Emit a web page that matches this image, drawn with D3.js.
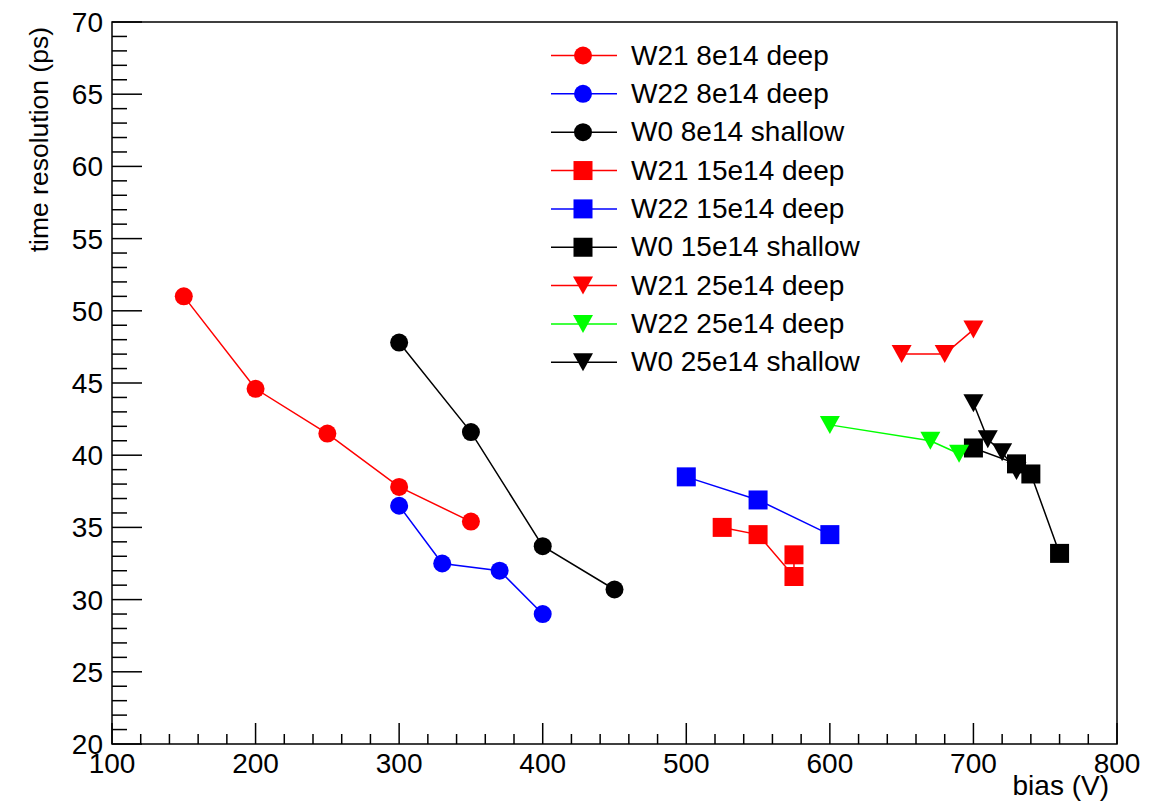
<!DOCTYPE html>
<html>
<head>
<meta charset="utf-8">
<script src="https://cdn.jsdelivr.net/npm/d3@7"></script>
<style>
  body { margin: 0; background: #fff; }
  text { font-family: "Liberation Sans", Arial, sans-serif; fill: #000; }
</style>
</head>
<body>
<svg id="myGraph" width="1162" height="809"></svg>
<script>
// グラフのデータ
var seriesNames = ['W21 8e14 deep', 'W22 8e14 deep', 'W0 8e14 shallow',
                   'W21 15e14 deep', 'W22 15e14 deep', 'W0 15e14 shallow',
                   'W21 25e14 deep', 'W22 25e14 deep', 'W0 25e14 shallow'];

var biasW21_8e14  = [150, 200, 250, 300, 350];
var resW21_8e14   = [51.0, 44.6, 41.5, 37.8, 35.4];
var biasW22_8e14  = [300, 330, 370, 400];
var resW22_8e14   = [36.5, 32.5, 32.0, 29.0];
var biasW0_8e14   = [300, 350, 400, 450];
var resW0_8e14    = [47.8, 41.6, 33.7, 30.7];

var biasW21_15e14 = [525, 550, 575, 575];
var resW21_15e14  = [35.0, 34.5, 31.6, 33.1];
var biasW22_15e14 = [500, 550, 600];
var resW22_15e14  = [38.5, 36.9, 34.5];
var biasW0_15e14  = [700, 730, 740, 760];
var resW0_15e14   = [40.5, 39.4, 38.7, 33.2];

var biasW21_25e14 = [650, 680, 700];
var resW21_25e14  = [47.0, 47.0, 48.7];
var biasW22_25e14 = [600, 670, 690];
var resW22_25e14  = [42.1, 41.0, 40.1];
var biasW0_25e14  = [700, 710, 720, 730];
var resW0_25e14   = [43.6, 41.1, 40.2, 38.9];

var xTicks = [100, 200, 300, 400, 500, 600, 700, 800];
var yTicks = [20, 25, 30, 35, 40, 45, 50, 55, 60, 65, 70];

// 色とマーカー
var colors  = ['#ff0000', '#0000ff', '#000000', '#ff0000', '#0000ff', '#000000', '#ff0000', '#00ff00', '#000000'];
var markers = ['circle', 'circle', 'circle', 'square', 'square', 'square', 'tri', 'tri', 'tri'];

var biasList = [biasW21_8e14, biasW22_8e14, biasW0_8e14, biasW21_15e14, biasW22_15e14, biasW0_15e14, biasW21_25e14, biasW22_25e14, biasW0_25e14];
var resList  = [resW21_8e14, resW22_8e14, resW0_8e14, resW21_15e14, resW22_15e14, resW0_15e14, resW21_25e14, resW22_25e14, resW0_25e14];

var series = seriesNames.map(function(name, i) {
    return {
        name: name,
        color: colors[i],
        marker: markers[i],
        points: biasList[i].map(function(b, j) { return [b, resList[i][j]]; })
    };
});

// プロット領域 (window.top と被らないように名前を変える)
var padL = 112, padR = 1117, padT = 22, padB = 744;

var x = d3.scaleLinear().domain([100, 800]).range([padL, padR]);
var y = d3.scaleLinear().domain([20, 70]).range([padB, padT]);

var svg = d3.select('#myGraph');

// 枠
svg.append('path')
  .attr('d', 'M' + padL + ',' + padB + 'V' + padT + 'H' + padR + 'V' + padB + 'Z')
  .attr('fill', 'none')
  .attr('stroke', '#000')
  .attr('stroke-width', 1.5);

// 目盛り (y)
svg.append('g')
  .selectAll('line')
  .data(d3.range(20, 70.01, 1))
  .enter()
  .append('line')
  .attr('x1', padL)
  .attr('x2', function(d) { return padL + (d % 5 === 0 ? 30 : 15); })
  .attr('y1', function(d) { return y(d); })
  .attr('y2', function(d) { return y(d); })
  .attr('stroke', '#000')
  .attr('stroke-width', 1.5);

svg.append('g')
  .selectAll('text')
  .data(yTicks)
  .enter()
  .append('text')
  .attr('x', 103)
  .attr('y', function(d) { return y(d) + 10; })
  .attr('text-anchor', 'end')
  .style('font-size', '28px')
  .text(function(d) { return d; });

// 目盛り (x)
svg.append('g')
  .selectAll('line')
  .data(d3.range(100, 800.01, 20))
  .enter()
  .append('line')
  .attr('x1', function(d) { return x(d); })
  .attr('x2', function(d) { return x(d); })
  .attr('y1', padB)
  .attr('y2', function(d) { return padB - (d % 100 === 0 ? 21 : 10); })
  .attr('stroke', '#000')
  .attr('stroke-width', 1.5);

svg.append('g')
  .selectAll('text')
  .data(xTicks)
  .enter()
  .append('text')
  .attr('x', function(d) { return x(d); })
  .attr('y', 773)
  .attr('text-anchor', 'middle')
  .style('font-size', '28px')
  .text(function(d) { return d; });

// 軸ラベル
svg.append('text')
  .attr('x', 1109)
  .attr('y', 795)
  .attr('text-anchor', 'end')
  .style('font-size', '28px')
  .text('bias (V)');

svg.append('text')
  .attr('transform', 'translate(48,27) rotate(-90)')
  .attr('text-anchor', 'end')
  .style('font-size', '26.5px')
  .text('time resolution (ps)');

// マーカーを描く
function drawMarker(g, type, color) {
    if (type === 'circle') {
        g.append('circle').attr('r', 9).attr('fill', color);
    } else if (type === 'square') {
        g.append('rect').attr('x', -9.5).attr('y', -9.5).attr('width', 19).attr('height', 19).attr('fill', color);
    } else {
        g.append('path').attr('d', 'M-10,-9L10,-9L0,9Z').attr('fill', color);
    }
}

var line = d3.line()
  .x(function(d) { return x(d[0]); })
  .y(function(d) { return y(d[1]); });

// 各系列
series.forEach(function(s) {
    var g = svg.append('g');
    g.append('path')
      .attr('d', line(s.points))
      .attr('fill', 'none')
      .attr('stroke', s.color)
      .attr('stroke-width', 1.5);
    g.selectAll('g')
      .data(s.points)
      .enter()
      .append('g')
      .attr('transform', function(d) { return 'translate(' + x(d[0]) + ',' + y(d[1]) + ')'; })
      .each(function() { drawMarker(d3.select(this), s.marker, s.color); });
});

// 凡例
var legend = svg.append('g')
  .selectAll('g')
  .data(series)
  .enter()
  .append('g')
  .attr('transform', function(d, i) { return 'translate(0,' + (55.5 + i * 38.35) + ')'; });

legend.append('line')
  .attr('x1', 551)
  .attr('x2', 617)
  .attr('stroke', function(d) { return d.color; })
  .attr('stroke-width', 1.5);

legend.append('g')
  .attr('transform', 'translate(583,0)')
  .each(function(d) { drawMarker(d3.select(this), d.marker, d.color); });

legend.append('text')
  .attr('x', 631)
  .attr('y', 9)
  .style('font-size', '28px')
  .text(function(d) { return d.name; });
</script>
</body>
</html>
